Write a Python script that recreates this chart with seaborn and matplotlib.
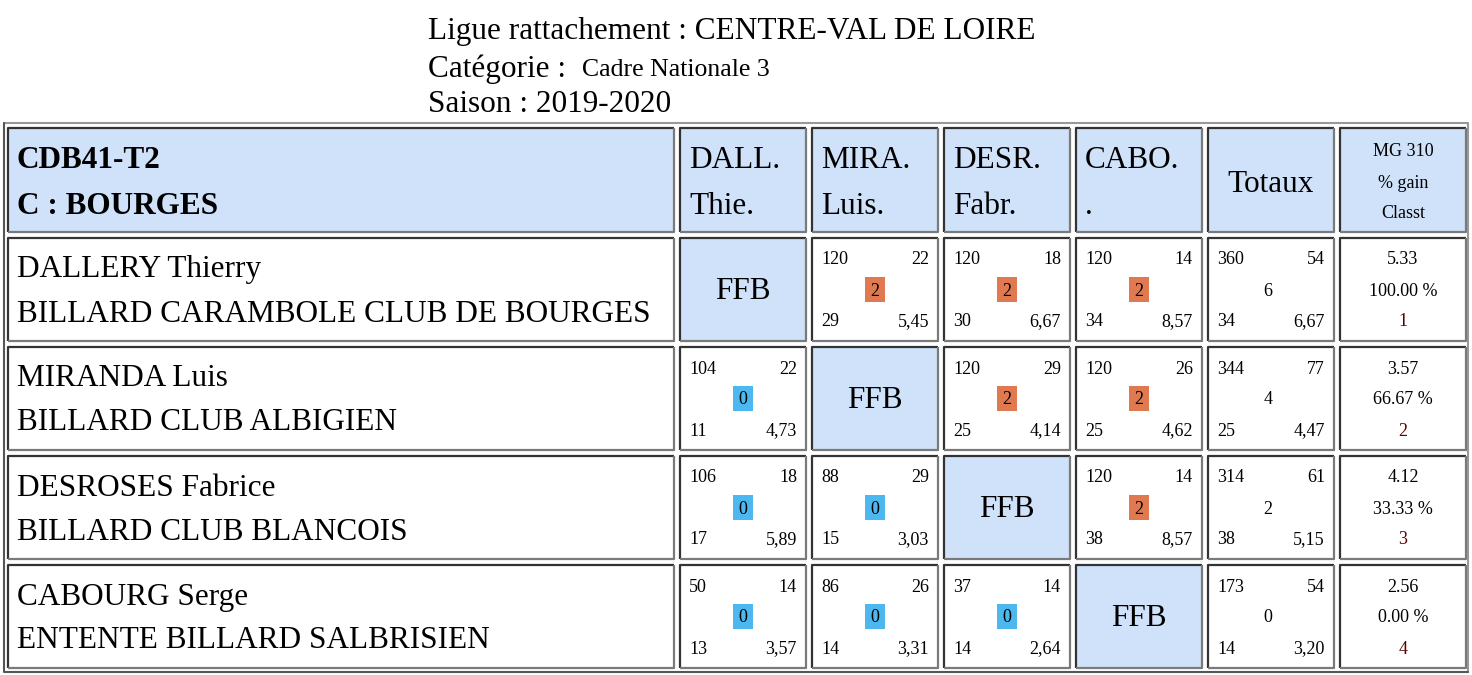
import matplotlib
matplotlib.use("Agg")
import matplotlib.pyplot as plt
from matplotlib.patches import Rectangle
import seaborn as sns

sns.set_style("white")
plt.rcParams["font.family"] = "Liberation Serif"
plt.rcParams["text.color"] = "black"

# ---- data ----
title_lines = ["Ligue rattachement : CENTRE-VAL DE LOIRE", "Catégorie : ", "Saison : 2019-2020"]
categorie = "Cadre Nationale 3"
group_title = ["CDB41-T2", "C : BOURGES"]
col_heads = [["DALL.", "Thie."], ["MIRA.", "Luis."], ["DESR.", "Fabr."], ["CABO.", "."]]
players = ["DALLERY Thierry", "MIRANDA Luis", "DESROSES Fabrice", "CABOURG Serge"]
clubs = ["BILLARD CARAMBOLE CLUB DE BOURGES", "BILLARD CLUB ALBIGIEN",
         "BILLARD CLUB BLANCOIS", "ENTENTE BILLARD SALBRISIEN"]
# per match: points, reprises, best series, average, match points (None = self)
points = [[None, 120, 120, 120], [104, None, 120, 120], [106, 88, None, 120], [50, 86, 37, None]]
reprises = [[None, 22, 18, 14], [22, None, 29, 26], [18, 29, None, 14], [14, 26, 14, None]]
series = [[None, 29, 30, 34], [11, None, 25, 25], [17, 15, None, 38], [13, 14, 14, None]]
moyenne = [[None, "5,45", "6,67", "8,57"], ["4,73", None, "4,14", "4,62"],
           ["5,89", "3,03", None, "8,57"], ["3,57", "3,31", "2,64", None]]
mpts = [[None, 2, 2, 2], [0, None, 2, 2], [0, 0, None, 2], [0, 0, 0, None]]
tot_points = [360, 344, 314, 173]
tot_reprises = [54, 77, 61, 54]
tot_mpts = [6, 4, 2, 0]
tot_series = [34, 25, 38, 14]
tot_moy = ["6,67", "4,47", "5,15", "3,20"]
mg = ["5.33", "3.57", "4.12", "2.56"]
gain = ["100.00 %", "66.67 %", "33.33 %", "0.00 %"]
classt = [1, 2, 3, 4]

# ---- layout ----
col_x = [8, 680, 812, 944, 1076, 1208, 1340]
col_w = [666, 126, 126, 126, 126, 126, 126]
row_y = [128, 238, 347, 456, 565]
row_h = [104, 103, 103, 103, 103]
HEAD = "#cfe2fa"
WIN = "#e07850"
LOSS = "#4db8f0"
BIG = 22.5
small = 13

fig = plt.figure(figsize=(14.72, 6.75), dpi=100)
ax = fig.add_axes([0, 0, 1, 1])
ax.set_xlim(0, 1472)
ax.set_ylim(675, 0)
ax.axis("off")

def cell(x, y, w, h, fc="white"):
    ax.add_patch(Rectangle((x, y), w, h, fc=fc, ec="none"))
    ax.plot([x, x, x + w], [y + h, y, y], color="#333333", lw=1.6, solid_capstyle="butt")
    ax.plot([x + w, x + w, x], [y, y + h, y + h], color="#7a7a7a", lw=1.6, solid_capstyle="butt")

# outer border
ax.plot([4, 1468, 1468], [123, 123, 672], color="#999999", lw=1.5)
ax.plot([4, 4, 1468], [123, 672, 672], color="#555555", lw=1.5)

# title
ax.text(428, 31, title_lines[0], fontsize=BIG, va="center")
ax.text(428, 69, title_lines[1], fontsize=BIG, va="center")
ax.text(582, 70, categorie, fontsize=18.5, va="center")
ax.text(428, 105, title_lines[2], fontsize=BIG, va="center")

# header row
cell(col_x[0], row_y[0], col_w[0], row_h[0], HEAD)
ax.text(17, 161, group_title[0], fontsize=BIG, fontweight="bold", va="center")
ax.text(17, 206, group_title[1], fontsize=BIG, fontweight="bold", va="center")
for j, (a, b) in enumerate(col_heads):
    x = col_x[j + 1]
    cell(x, row_y[0], col_w[j + 1], row_h[0], HEAD)
    ax.text(x + 9, 161, a, fontsize=BIG, va="center")
    ax.text(x + 9, 206, b, fontsize=BIG, va="center")
cell(col_x[5], row_y[0], col_w[5], row_h[0], HEAD)
ax.text(col_x[5] + 63, 184, "Totaux", fontsize=BIG, ha="center", va="center")
cell(col_x[6], row_y[0], col_w[6], row_h[0], HEAD)
for k, s in enumerate(["MG 310", "% gain", "Classt"]):
    ax.text(col_x[6] + 63, 152 + 31 * k, s, fontsize=small, ha="center", va="center")

for i in range(4):
    y, h = row_y[i + 1], row_h[i + 1]
    cell(col_x[0], y, col_w[0], h)
    ax.text(17, y + 32, players[i], fontsize=BIG, va="center")
    ax.text(17, y + 76, clubs[i], fontsize=BIG, va="center")
    for j in range(4):
        x, w = col_x[j + 1], col_w[j + 1]
        if i == j:
            cell(x, y, w, h, HEAD)
            ax.text(x + w / 2, y + h / 2 + 2, "FFB", fontsize=BIG, ha="center", va="center")
            continue
        cell(x, y, w, h)
        ax.text(x + 9, y + 22, str(points[i][j]), fontsize=small, va="center")
        ax.text(x + w - 9, y + 22, str(reprises[i][j]), fontsize=small, va="center", ha="right")
        ax.text(x + 9, y + 84, str(series[i][j]), fontsize=small, va="center")
        ax.text(x + w - 9, y + 84, str(moyenne[i][j]), fontsize=small, va="center", ha="right")
        ax.add_patch(Rectangle((x + 53, y + 39), 20, 25, fc=WIN if mpts[i][j] == 2 else LOSS, ec="none"))
        ax.text(x + 63, y + 53, str(mpts[i][j]), fontsize=small, ha="center", va="center")
    x, w = col_x[5], col_w[5]
    cell(x, y, w, h)
    ax.text(x + 9, y + 22, str(tot_points[i]), fontsize=small, va="center")
    ax.text(x + w - 9, y + 22, str(tot_reprises[i]), fontsize=small, va="center", ha="right")
    ax.text(x + 60, y + 53, str(tot_mpts[i]), fontsize=small, ha="center", va="center")
    ax.text(x + 9, y + 84, str(tot_series[i]), fontsize=small, va="center")
    ax.text(x + w - 9, y + 84, str(tot_moy[i]), fontsize=small, va="center", ha="right")
    x, w = col_x[6], col_w[6]
    cell(x, y, w, h)
    ax.text(x + 63, y + 22, mg[i], fontsize=small, ha="center", va="center")
    ax.text(x + 63, y + 53, gain[i], fontsize=small, ha="center", va="center")
    ax.text(x + 63, y + 84, str(classt[i]), fontsize=small, ha="center", va="center", color="#5a0000")

fig.savefig("out.png", dpi=100)
